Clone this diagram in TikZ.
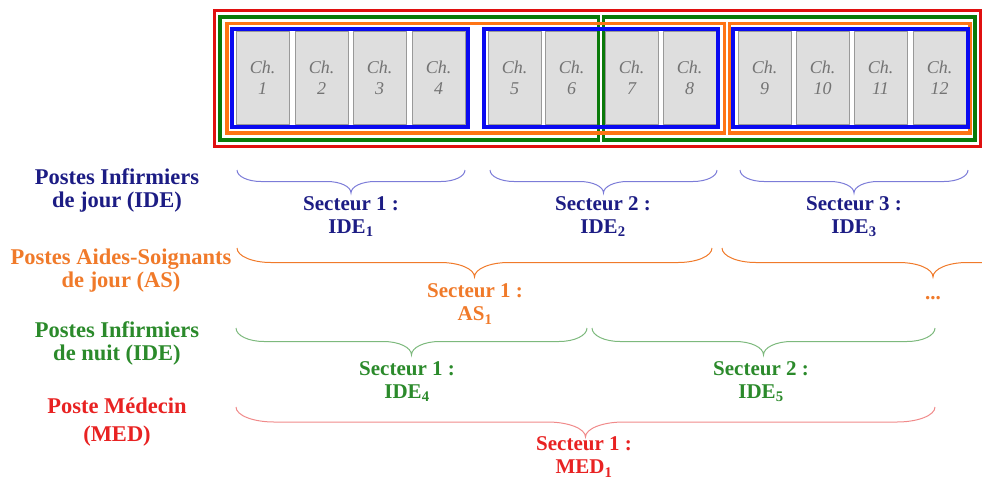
\documentclass[tikz,border=0pt]{standalone}
\usepackage{fontspec}
\setmainfont{Liberation Serif}
\definecolor{idenavy}{HTML}{1C1C84}
\definecolor{idebrace}{HTML}{7C7CD8}
\definecolor{asorange}{HTML}{F07A2A}
\definecolor{nuitgreen}{HTML}{2B8A2B}
\definecolor{nuitbrace}{HTML}{7DB97D}
\definecolor{medred}{HTML}{E82222}
\definecolor{medbrace}{HTML}{F08A8A}
\definecolor{framered}{HTML}{E01010}
\definecolor{framegreen}{HTML}{0A7A0A}
\definecolor{frameorange}{HTML}{FF7414}
\definecolor{frameblue}{HTML}{0A0AF0}
% accolade : couleur, x gauche, x droite, y, hauteur, rayon
\newcommand{\secbrace}[6]{%
  \draw[#1,line width=1pt] (#2,#4) .. controls (#2,#4-.28*#5) and (#2+.45*#6,#4-#5/2) .. (#2+#6,#4-#5/2)
    -- ({(#2+#3)/2-#6},#4-#5/2) .. controls ({(#2+#3)/2-.45*#6},#4-#5/2) and ({(#2+#3)/2},#4-.72*#5) .. ({(#2+#3)/2},#4-#5)
    .. controls ({(#2+#3)/2},#4-.72*#5) and ({(#2+#3)/2+.45*#6},#4-#5/2) .. ({(#2+#3)/2+#6},#4-#5/2)
    -- (#3-#6,#4-#5/2) .. controls (#3-.45*#6,#4-#5/2) and (#3,#4-.28*#5) .. (#3,#4);}

\begin{document}
\begin{tikzpicture}[x=1pt,y=1pt,
  room/.style={draw=black!40,fill=black!13,minimum width=53pt,minimum height=93pt,inner sep=0pt,align=center,font=\fontsize{18}{21}\selectfont\itshape,text=black!55},
  rowlabel/.style={align=center,font=\fontsize{22.5}{23}\selectfont\bfseries},
  sector/.style={align=center,font=\fontsize{21}{23}\selectfont\bfseries}]
\useasboundingbox (0,0) rectangle (982,-480);

% chambres
\foreach \cx [count=\i] in {262.5,321.5,379.5,438.5,514.5,571.5,631.5,689.5,764.5,822.5,880.5,939.5}
  \node[room] (ch\i) at (\cx,-77.5) {Ch.\\\i};

% cadres des secteurs
\draw[framered,line width=3pt] (214,-10) rectangle (980,-146);
\draw[framegreen,line width=3.2pt] (220,-17) rectangle (598.5,-140);
\draw[framegreen,line width=3.2pt] (603.5,-17) rectangle (975,-140);
\draw[frameorange,line width=3.2pt] (227,-23.5) rectangle (724.5,-133);
\draw[frameorange,line width=3.2pt] (729.5,-23.5) rectangle (970,-133);
\draw[frameblue,line width=4pt] (232,-29) rectangle (468,-127);
\draw[frameblue,line width=4pt] (484,-29) rectangle (718,-127);
\draw[frameblue,line width=4pt] (733,-29) rectangle (968,-127);

% libelles des postes
\node[rowlabel,text=idenavy] (lide) at (117,-190.5) {Postes Infirmiers\\de jour (IDE)};
\node[rowlabel,text=asorange] (las) at (121,-271) {Postes Aides-Soignants\\de jour (AS)};
\node[rowlabel,text=nuitgreen] (lnuit) at (117,-343) {Postes Infirmiers\\de nuit (IDE)};
\node[rowlabel,text=medred] (lmed) at (117,-422) {Poste Médecin\\[5pt](MED)};

% IDE de jour
\secbrace{idebrace}{237}{465}{-170}{23}{24}
\secbrace{idebrace}{490}{717}{-170}{23}{24}
\secbrace{idebrace}{740}{968}{-170}{23}{24}
\node[sector,text=idenavy] (ide1) at (351,-216.5) {Secteur 1 :\\IDE\textsubscript{1}};
\node[sector,text=idenavy] (ide2) at (603,-216.5) {Secteur 2 :\\IDE\textsubscript{2}};
\node[sector,text=idenavy] (ide3) at (854,-216.5) {Secteur 3 :\\IDE\textsubscript{3}};

% AS de jour
\secbrace{asorange}{237}{712}{-248}{29}{34}
\begin{scope}
\clip (0,0) rectangle (982,-480);
\secbrace{asorange}{722}{1144}{-248}{29}{34}
\end{scope}
\node[sector,text=asorange] (as1) at (475,-304) {Secteur 1 :\\AS\textsubscript{1}};
\node[sector,text=asorange] (as2) at (933,-298) {...};

% IDE de nuit
\secbrace{nuitbrace}{236}{587}{-328}{27}{28}
\secbrace{nuitbrace}{592}{935}{-328}{27}{28}
\node[sector,text=nuitgreen] (ide4) at (407,-381.5) {Secteur 1 :\\IDE\textsubscript{4}};
\node[sector,text=nuitgreen] (ide5) at (761,-381.5) {Secteur 2 :\\IDE\textsubscript{5}};

% medecin
\secbrace{medbrace}{236}{935}{-407}{30}{38}
\node[sector,text=medred] (med1) at (584,-457) {Secteur 1 :\\MED\textsubscript{1}};
\end{tikzpicture}
\end{document}
